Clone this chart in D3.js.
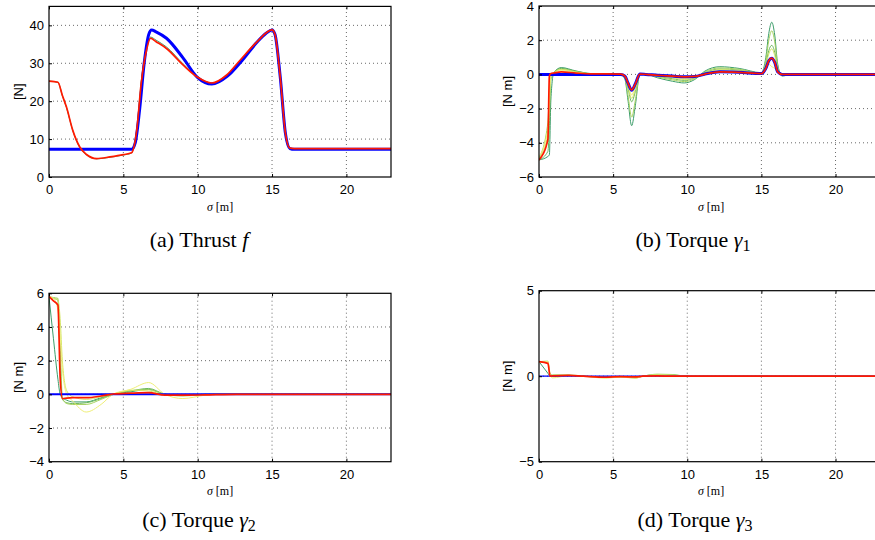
<!DOCTYPE html>
<html>
<head>
<meta charset="utf-8">
<script src="https://cdn.jsdelivr.net/npm/d3@7"></script>
<style>
  body { margin: 0; background: #fff; }
</style>
</head>
<body>
<div id="chart"></div>
<script>
// ---- data ----
const sigmaTicks = [0, 5, 10, 15, 20];

// (a) thrust f [N]
const thrustSigmaRef = [0, 5.55, 5.8, 6.1, 6.4, 6.7, 6.9, 7.2, 7.9, 9.0, 10.0, 10.95, 12.0, 13.0, 14.0, 14.6, 15.0, 15.2, 15.55, 15.9, 16.2, 16.5, 23];
const thrustRef = [7.3, 7.3, 9, 18, 30, 37.5, 38.8, 38.3, 36.6, 31.5, 26.2, 24.5, 26.6, 30.8, 35.6, 37.9, 38.8, 37.6, 26.4, 11.5, 7.5, 7.3, 7.3];
const thrustSigma = [0, 0.6, 0.9, 1.17, 1.6, 2.07, 2.5, 3.2, 4.1, 5.0, 5.55, 5.9, 6.2, 6.56, 6.83, 7.2, 7.9, 9.03, 10.0, 10.95, 11.95, 12.85, 14.0, 15.0, 15.2, 15.55, 15.9, 16.2, 16.5, 23];
const thrustOpt = [25.3, 25.0, 21.5, 18.5, 12.3, 7.9, 6.0, 4.85, 5.3, 5.9, 6.4, 12.3, 24.7, 33.5, 36.6, 35.7, 33.9, 29.5, 26.3, 24.8, 26.9, 30.8, 35.7, 38.8, 37.6, 26.4, 11.5, 7.6, 7.5, 7.5];
const thrustIter1 = [25.3, 25.0, 21.4, 18.4, 12.2, 7.8, 5.9, 4.8, 5.2, 5.8, 6.3, 12.5, 25.0, 33.8, 36.9, 36.1, 34.3, 29.8, 26.4, 24.8, 26.8, 30.7, 35.6, 38.7, 37.6, 26.5, 11.6, 7.5, 7.4, 7.4];

// (b) torque gamma1 [N m]
const g1Sigma = [0, 0.6, 0.7, 0.8, 1.0, 1.5, 2.5, 3.5, 5.5, 5.8, 6.0, 6.25, 6.5, 6.8, 7.2, 8.0, 9.0, 9.8, 10.5, 11.2, 12.2, 13.5, 15.0, 15.3, 15.5, 15.7, 15.9, 16.1, 16.4, 17, 23];
const g1Ref = [0, 0, 0, 0, 0, 0, 0, 0, 0, -0.1, -0.5, -0.92, -0.55, 0.02, 0, -0.05, -0.1, -0.14, -0.12, 0.02, 0.15, 0.12, 0.05, 0.35, 0.8, 0.95, 0.7, 0.15, 0, 0, 0];
const g1Opt = [-5, -3.8, -0.1, 0.05, 0.08, 0.15, 0.08, 0.03, 0.02, -0.1, -0.5, -0.9, -0.55, 0.02, 0, -0.05, -0.1, -0.14, -0.12, 0.02, 0.15, 0.12, 0.05, 0.35, 0.8, 0.95, 0.7, 0.15, 0, 0, 0];
const g1Iter1 = [-5, -4.8, -4.7, -1.5, 0.1, 0.4, 0.2, 0.05, 0, -0.3, -1.5, -3.0, -1.8, 0, 0, -0.2, -0.4, -0.5, -0.3, 0.2, 0.45, 0.35, 0.1, 1.0, 2.4, 3.05, 2.3, 0.6, -0.1, 0, 0];
const g1Iter2 = [-4.9, -2.8, -1.0, -0.1, 0.1, 0.3, 0.15, 0.03, 0, -0.25, -1.2, -2.5, -1.5, 0, 0, -0.15, -0.32, -0.42, -0.25, 0.15, 0.38, 0.3, 0.08, 0.8, 2.0, 2.55, 1.9, 0.5, -0.05, 0, 0];
const g1Iter3 = [-5, -4.5, -3.0, -0.3, 0.1, 0.35, 0.18, 0.04, 0, -0.18, -0.8, -1.6, -1.0, 0, 0, -0.12, -0.25, -0.35, -0.2, 0.1, 0.32, 0.25, 0.07, 0.6, 1.4, 1.7, 1.3, 0.35, 0, 0, 0];
const g1Iter4 = [-4.9, -3.5, -1.8, -0.2, 0.1, 0.28, 0.14, 0.03, 0, -0.15, -0.7, -1.4, -0.85, 0, 0, -0.1, -0.2, -0.3, -0.18, 0.08, 0.28, 0.22, 0.06, 0.5, 1.2, 1.5, 1.1, 0.3, 0, 0, 0];
const g1Iter5 = [-4.8, -3.2, -1.2, -0.1, 0.08, 0.22, 0.1, 0.02, 0, -0.12, -0.55, -1.2, -0.7, 0, 0, -0.08, -0.16, -0.24, -0.15, 0.06, 0.22, 0.18, 0.05, 0.3, 0.6, 0.45, 0.35, 0.1, 0, 0, 0];

// (c) torque gamma2 [N m]
const g2Sigma = [0, 0.3, 0.6, 0.75, 0.9, 1.2, 1.6, 2.5, 3.5, 4.3, 5.5, 6.7, 7.8, 9.0, 10.5, 12.6, 14, 23];
const g2Ref = [0, 0, 0, 0, 0, 0, 0, 0, 0, 0, 0, 0, 0, 0, 0, 0, 0, 0];
const g2Opt = [5.8, 5.55, 5.3, 1.0, -0.25, -0.22, -0.2, -0.2, -0.1, 0.02, 0.07, 0.1, -0.05, -0.05, -0.03, 0, 0, 0];
const g2Iter1 = [5.8, 3.3, 0.9, 0.0, -0.2, -0.35, -0.45, -0.45, -0.2, 0.0, 0.15, 0.3, 0.0, -0.05, 0, 0, 0, 0];
const g2Iter2 = [5.8, 5.7, 5.6, 2.0, -0.3, -0.5, -0.55, -0.5, -0.25, 0.0, 0.2, 0.35, 0.02, -0.05, 0, 0, 0, 0];
const g2Iter3 = [5.8, 5.75, 5.7, 3.0, -0.2, -0.55, -0.6, -0.6, -0.3, -0.02, 0.22, 0.28, 0.0, -0.1, -0.02, 0.02, 0, 0];
const g2Iter4 = [5.8, 5.7, 5.6, 4.5, 2.0, 0.2, -0.15, -0.3, -0.15, 0.02, 0.25, 0.2, -0.02, -0.08, 0, 0, 0, 0];
const g2Iter5 = [5.8, 5.7, 5.0, 3.5, 1.5, 0.0, -0.4, -1.05, -0.6, 0.0, 0.3, 0.7, 0.0, -0.25, -0.05, 0.05, 0, 0];

// (d) torque gamma3 [N m]
const g3Sigma = [0, 0.6, 0.75, 0.9, 2.0, 3.0, 4.5, 5.5, 6.5, 7.0, 8.0, 9.0, 10, 23];
const g3Ref = [0, 0, 0, 0, 0, 0, 0, 0, 0, 0, 0, 0, 0, 0];
const g3Opt = [0.85, 0.75, 0.0, 0.02, 0.05, 0.0, -0.06, -0.03, -0.04, 0.0, 0.02, 0.0, 0, 0];
const g3Iter1 = [0.85, 0.17, 0.0, 0.0, 0.05, 0, -0.05, -0.05, -0.1, 0, 0.1, 0.08, 0, 0];
const g3Iter2 = [0.85, 0.88, 0.15, 0.08, 0.08, 0.0, -0.08, -0.05, -0.08, 0.0, 0.12, 0.1, 0, 0];
const g3Iter3 = [0.8, 0.85, 0.1, -0.1, 0.03, 0, -0.12, -0.05, -0.12, 0.0, 0.08, 0.05, 0, 0];

// ---- styles ----
const iterColors = ["#3c9d6a", "#6cb85a", "#a5d15e", "#d6e66a", "#eeee78"];
const refColor = "#0000ff";
const optColor = "#ff1a00";
const sansFont = "'Liberation Sans', Arial, Helvetica, sans-serif";
const serifFont = "'Liberation Serif', 'Times New Roman', Times, serif";

const W = 875, H = 540;
const svg = d3.select("#chart").append("svg")
    .attr("width", W).attr("height", H);

const panels = [
  { x: [49, 391], y: [177, 6.4], ydom: [0, 45], yticks: [0, 10, 20, 30, 40], ylabel: "[N]", ylabelX: 18,
    iters: [[thrustSigma, thrustIter1]],
    ref: [thrustSigmaRef, thrustRef], refW: 3, opt: [thrustSigma, thrustOpt],
    xlabelY: 211, caption: ["(a) Thrust ", "f", null], capX: 199, capY: 247 },
  { x: [539, 880], y: [177, 6], ydom: [-6, 4], yticks: [-6, -4, -2, 0, 2, 4], ylabel: "[N m]", ylabelX: 507,
    iters: [[g1Sigma, g1Iter1], [g1Sigma, g1Iter3], [g1Sigma, g1Iter2], [g1Sigma, g1Iter4], [g1Sigma, g1Iter5]],
    ref: [g1Sigma, g1Ref], refW: 3, opt: [g1Sigma, g1Opt],
    xlabelY: 211, caption: ["(b) Torque ", "γ", "1"], capX: 693, capY: 247 },
  { x: [49, 391], y: [461.7, 293.3], ydom: [-4, 6], yticks: [-4, -2, 0, 2, 4, 6], ylabel: "[N m]", ylabelX: 18,
    iters: [[g2Sigma, g2Iter1], [g2Sigma, g2Iter2], [g2Sigma, g2Iter3], [g2Sigma, g2Iter4], [g2Sigma, g2Iter5]],
    ref: [g2Sigma, g2Ref], refW: 2, opt: [g2Sigma, g2Opt],
    xlabelY: 495, caption: ["(c) Torque ", "γ", "2"], capX: 199, capY: 527 },
  { x: [539, 880], y: [461.7, 290.7], ydom: [-5, 5], yticks: [-5, 0, 5], ylabel: "[N m]", ylabelX: 507,
    iters: [[g3Sigma, g3Iter1], [g3Sigma, g3Iter2], [g3Sigma, g3Iter3]],
    ref: [g3Sigma, g3Ref], refW: 1.2, opt: [g3Sigma, g3Opt],
    xlabelY: 495, caption: ["(d) Torque ", "γ", "3"], capX: 695, capY: 527 }
];

panels.forEach((p, pi) => {
  const x = d3.scaleLinear().domain([0, 23]).range(p.x);
  const y = d3.scaleLinear().domain(p.ydom).range(p.y);
  const g = svg.append("g");

  const clipId = "clip" + pi;
  g.append("clipPath").attr("id", clipId).append("rect")
    .attr("x", p.x[0]).attr("y", p.y[1])
    .attr("width", p.x[1] - p.x[0]).attr("height", p.y[0] - p.y[1]);

  // dotted grid
  g.selectAll(".gx").data(sigmaTicks.filter(t => t > 0)).enter().append("line")
    .attr("x1", d => x(d)).attr("x2", d => x(d))
    .attr("y1", p.y[0]).attr("y2", p.y[1])
    .attr("stroke", "#444").attr("stroke-width", 0.8).attr("stroke-dasharray", "1,3");
  g.selectAll(".gy").data(p.yticks.filter(t => y(t) < p.y[0] - 1 && y(t) > p.y[1] + 1)).enter().append("line")
    .attr("x1", p.x[0]).attr("x2", p.x[1])
    .attr("y1", d => y(d)).attr("y2", d => y(d))
    .attr("stroke", "#444").attr("stroke-width", 0.8).attr("stroke-dasharray", "1,3");

  const line = d3.line()
    .x(d => x(d[0]))
    .y(d => y(d[1]))
    .curve(d3.curveMonotoneX);
  const pairs = (xs, ys) => xs.map((v, i) => [v, ys[i]]);

  const plot = g.append("g").attr("clip-path", `url(#${clipId})`);
  plot.selectAll(".iter").data(p.iters).enter().append("path")
    .attr("d", d => line(pairs(d[0], d[1])))
    .attr("fill", "none")
    .attr("stroke", (d, i) => iterColors[Math.round(i * (iterColors.length - 1) / Math.max(1, p.iters.length - 1))])
    .attr("stroke-width", 1);
  plot.append("path").attr("d", line(pairs(p.ref[0], p.ref[1])))
    .attr("fill", "none").attr("stroke", refColor).attr("stroke-width", p.refW);
  plot.append("path").attr("d", line(pairs(p.opt[0], p.opt[1])))
    .attr("fill", "none").attr("stroke", optColor).attr("stroke-width", 1.7);

  // box
  g.append("rect")
    .attr("x", p.x[0]).attr("y", p.y[1])
    .attr("width", p.x[1] - p.x[0]).attr("height", p.y[0] - p.y[1])
    .attr("fill", "none").attr("stroke", "#000").attr("stroke-width", 1.2);

  // axes with inward ticks
  const fmt = d => d < 0 ? "\u2212" + Math.abs(d) : String(d);
  const xAx = g.append("g").attr("transform", `translate(0,${p.y[0]})`)
    .call(d3.axisBottom(x).tickValues(sigmaTicks).tickSize(-3).tickPadding(8).tickFormat(fmt));
  const yAx = g.append("g").attr("transform", `translate(${p.x[0]},0)`)
    .call(d3.axisLeft(y).tickValues(p.yticks).tickSize(-3).tickPadding(5).tickFormat(fmt));
  [xAx, yAx].forEach(a => {
    a.select(".domain").remove();
    a.selectAll("line").attr("stroke", "#000");
    a.selectAll("text").attr("fill", "#000")
      .style("font-family", sansFont).style("font-size", "13px");
  });
  g.append("g").attr("transform", `translate(0,${p.y[1]})`)
    .call(d3.axisTop(x).tickValues(sigmaTicks).tickSize(-3).tickFormat(""))
    .call(a => a.select(".domain").remove())
    .selectAll("line").attr("stroke", "#000");

  // y label
  g.append("text")
    .attr("transform", `translate(${p.ylabelX},${(p.y[0] + p.y[1]) / 2}) rotate(-90)`)
    .attr("text-anchor", "middle").attr("dy", "0.35em")
    .style("font-family", sansFont).style("font-size", "13px")
    .text(p.ylabel);

  // x label
  const xl = g.append("text")
    .attr("x", (p.x[0] + Math.min(p.x[1], 875)) / 2 + (p.x[1] > 875 ? 4 : 0)).attr("y", p.xlabelY)
    .attr("text-anchor", "middle")
    .style("font-family", serifFont).style("font-size", "12px");
  xl.append("tspan").style("font-style", "italic").text("σ");
  xl.append("tspan").text(" [m]");

  // caption
  const cap = g.append("text")
    .attr("x", p.capX).attr("y", p.capY)
    .attr("text-anchor", "middle")
    .style("font-family", serifFont).style("font-size", "22px");
  cap.append("tspan").text(p.caption[0]);
  cap.append("tspan").style("font-style", "italic").text(p.caption[1]);
  if (p.caption[2]) {
    cap.append("tspan").attr("dy", 4).style("font-size", "16px").text(p.caption[2]);
  }
});
</script>
</body>
</html>
